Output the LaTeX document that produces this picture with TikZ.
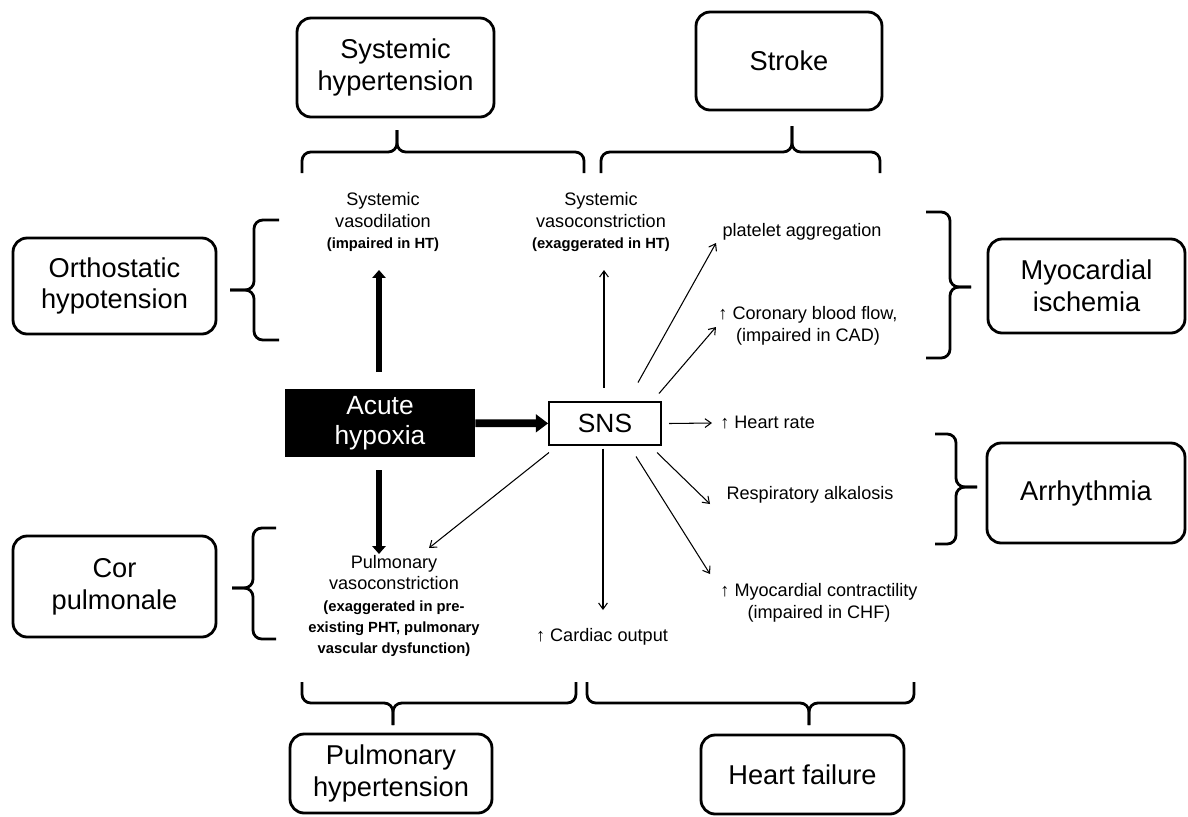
\documentclass[tikz,border=0pt]{standalone}
\usepackage{fontspec}
\setmainfont{Liberation Sans}
\usetikzlibrary{arrows.meta, positioning}

\begin{document}
\begin{tikzpicture}[x=0.02cm, y=-0.02cm,
        outcome/.style={rectangle, rounded corners=8pt, draw=black, line width=1.6pt, align=center, inner sep=0pt, font=\fontsize{15.5}{18}\selectfont},
        trigger/.style={rectangle, fill=black, text=white, align=center, inner sep=0pt, minimum width=3.8cm, minimum height=1.36cm, font=\fontsize{15}{17}\selectfont},
        hub/.style={rectangle, draw=black, line width=1pt, minimum width=2.24cm, minimum height=0.86cm, inner sep=0pt, font=\fontsize{15}{17}\selectfont},
        effect/.style={align=center, inner sep=0pt, font=\fontsize{10.3}{12.2}\selectfont},
        bracket/.style={line width=1.6pt, rounded corners=5pt},
        weakline/.style={-{Straight Barb[length=3.5pt,width=5pt]}, line width=0.6pt},
        strongline/.style={-{Triangle[length=4.5pt,width=7.5pt]}, line width=3.2pt}
    ]
    \useasboundingbox (0,0) rectangle (1188,816);
    % outcome boxes
    \node[outcome, minimum width=3.94cm, minimum height=1.98cm] (sysht) at (395.5,67.5) {Systemic\\hypertension};
    \node[outcome, minimum width=3.72cm, minimum height=1.96cm] (stroke) at (789,61) {Stroke};
    \node[outcome, minimum width=4.06cm, minimum height=1.92cm] (ortho) at (114.5,286) {Orthostatic\\hypotension};
    \node[outcome, minimum width=3.94cm, minimum height=1.88cm] (myoisch) at (1086.5,286) {Myocardial\\ischemia};
    \node[outcome, minimum width=3.96cm, minimum height=2cm] (arrhy) at (1086,493) {Arrhythmia};
    \node[outcome, minimum width=4.06cm, minimum height=2.02cm] (corpul) at (114.5,586.5) {Cor\\pulmonale};
    \node[outcome, minimum width=4.04cm, minimum height=1.58cm] (pulmht) at (391,773.5) {Pulmonary\\hypertension};
    \node[outcome, minimum width=4.06cm, minimum height=1.58cm] (hfail) at (802.5,774.5) {Heart failure};
    % centre
    \node[trigger] (acute) at (380,423) {Acute\\hypoxia};
    \node[hub] (sns) at (605,423.5) {SNS};
    % effects
    \node[effect] (vdil) at (383,222) {Systemic\\vasodilation\\{\fontsize{8.4}{11}\selectfont\bfseries (impaired in HT)}};
    \node[effect] (vcon) at (601,222) {Systemic\\vasoconstriction\\{\fontsize{8.4}{11}\selectfont\bfseries (exaggerated in HT)}};
    \node[effect] (plat) at (802,232) {platelet aggregation};
    \node[effect] (coron) at (808,326) {↑ Coronary blood flow,\\(impaired in CAD)};
    \node[effect, anchor=west] (hrate) at (720,423) {↑ Heart rate};
    \node[effect] (resp) at (810,495) {Respiratory alkalosis};
    \node[effect] (mcon) at (819,603) {↑ Myocardial contractility\\(impaired in CHF)};
    \node[effect] (cout) at (602,637) {↑ Cardiac output};
    \node[effect] (pvc) at (394,606) {Pulmonary\\vasoconstriction\\{\fontsize{8.4}{11}\selectfont\bfseries (exaggerated in pre-}\\{\fontsize{8.4}{11}\selectfont\bfseries existing PHT, pulmonary}\\{\fontsize{8.4}{11}\selectfont\bfseries vascular dysfunction)}};
    % thick arrows
    \draw[strongline] ([shift={(-1,-51)}]acute.center) -- ([shift={(-4,48)}]vdil.center);
    \draw[strongline] ([shift={(-1,47)}]acute.center) -- ([shift={(-15,-52)}]pvc.center);
    \draw[strongline, line width=4.4pt, -{Triangle[length=7pt,width=10pt]}] (acute) -- (sns);
    % thin arrows
    \draw[weakline] ([shift={(-1,-36)}]sns.center) -- ([shift={(3,48)}]vcon.center);
    \draw[weakline] ([shift={(33,-41)}]sns.center) -- ([shift={(-86,11)}]plat.center);
    \draw[weakline] ([shift={(54,-30)}]sns.center) -- ([shift={(-92,1)}]coron.center);
    \draw[weakline] ([shift={(64,0)}]sns.center) -- ([shift={(-8,0)}]hrate.west);
    \draw[weakline] ([shift={(52,29)}]sns.center) -- ([shift={(-100,9)}]resp.center);
    \draw[weakline] ([shift={(31,33)}]sns.center) -- ([shift={(-109,-29)}]mcon.center);
    \draw[weakline] ([shift={(-2,25)}]sns.center) -- ([shift={(1,-27)}]cout.center);
    \draw[weakline] ([shift={(-56,29)}]sns.center) -- ([shift={(35,-58)}]pvc.center);
    % braces
    \draw[bracket] (302,173) |- (397,152) -- (397,130);
    \draw[bracket] (584,173) |- (397,152) -- (397,130);
    \draw[bracket] (601,173) |- (792,152) -- (792,126);
    \draw[bracket] (880,173) |- (792,152) -- (792,126);
    \draw[bracket] (302,682) |- (393,703) -- (393,725);
    \draw[bracket] (576,682) |- (393,703) -- (393,725);
    \draw[bracket] (587,682) |- (809,703) -- (809,725);
    \draw[bracket] (914,682) |- (809,703) -- (809,725);
    \draw[bracket] (279,220) -| (254,290) -- (230,290);
    \draw[bracket] (279,340) -| (254,290) -- (230,290);
    \draw[bracket] (276,528) -| (253,588) -- (232,588);
    \draw[bracket] (276,639) -| (253,588) -- (232,588);
    \draw[bracket] (926,212) -| (950,287) -- (971,287);
    \draw[bracket] (926,358) -| (950,287) -- (971,287);
    \draw[bracket] (935,434) -| (956,487) -- (977,487);
    \draw[bracket] (935,544) -| (956,487) -- (977,487);
\end{tikzpicture}
\end{document}
